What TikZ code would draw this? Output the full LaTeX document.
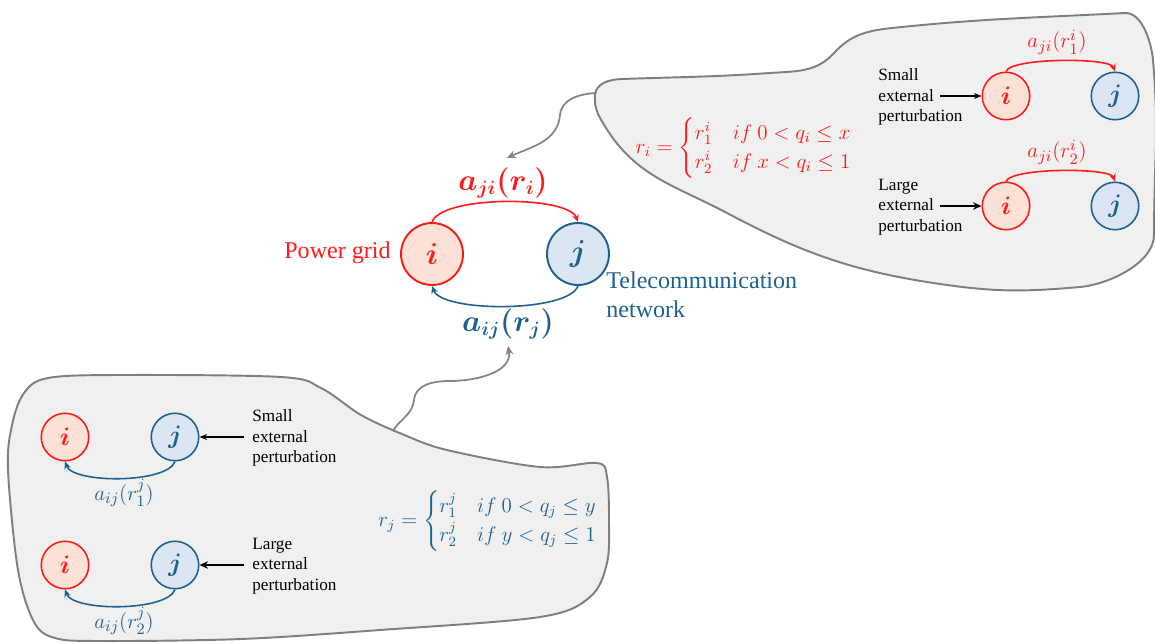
\documentclass[tikz,border=0pt]{standalone}
\usepackage{amsmath,amssymb}
\usepackage{bm}
\usepackage{fontspec}
\setmainfont{Liberation Serif}
\usepackage{tikz}
\usetikzlibrary{arrows.meta,positioning}
\definecolor{gridred}{HTML}{FF1A1A}
\definecolor{gridfill}{HTML}{FCE2D6}
\definecolor{netblue}{HTML}{1E6190}
\definecolor{netfill}{HTML}{DCE5F3}
\definecolor{panelgray}{HTML}{7F7F7F}
\definecolor{panelfill}{HTML}{F0F0F0}
\definecolor{linkgray}{HTML}{858585}
\tikzset{
  blob/.style={draw=panelgray,fill=panelfill,line width=1.1pt},
  gridnode/.style={circle,draw=gridred,fill=gridfill,line width=1.1pt,
                   minimum size=1.24cm,inner sep=0pt,text=gridred,
                   font=\fontsize{18}{21}\selectfont},
  netnode/.style={circle,draw=netblue,fill=netfill,line width=1.1pt,
                  minimum size=1.24cm,inner sep=0pt,text=netblue,
                  font=\fontsize{18}{21}\selectfont},
  gridsmall/.style={gridnode,minimum size=0.95cm,line width=0.9pt,
                    font=\fontsize{13.5}{15}\selectfont},
  netsmall/.style={netnode,minimum size=0.95cm,line width=0.9pt,
                   font=\fontsize{13.5}{15}\selectfont},
  bigtxt/.style={inner sep=0pt,font=\fontsize{13.7}{16.5}\selectfont},
  smalltxt/.style={inner sep=0pt,align=left,
                   font=\fontsize{9.8}{11.7}\selectfont},
  biglbl/.style={inner sep=0pt,font=\fontsize{16}{19}\selectfont},
  arclbl/.style={inner sep=0pt,font=\fontsize{13}{15}\selectfont},
  eqlbl/.style={inner sep=0pt,font=\fontsize{11.5}{13.8}\selectfont},
  redarc/.style={-{Stealth[length=1.5mm,width=1.3mm]},line width=0.9pt,
                 draw=gridred},
  bluearc/.style={-{Stealth[length=1.5mm,width=1.3mm]},line width=0.9pt,
                  draw=netblue},
  linkarr/.style={-{Stealth[length=1.8mm,width=1.6mm]},line width=1pt,
                  draw=linkgray},
  thinpert/.style={-{Stealth[length=1.5mm,width=1.2mm]},line width=0.7pt,
                   draw=black},
  thickpert/.style={-{Stealth[length=1.7mm,width=1.5mm]},line width=1.3pt,
                    draw=black}
}
\begin{document}
\begin{tikzpicture}[x=0.02cm,y=0.02cm]
    \path[use as bounding box] (0,0) rectangle (1155,-642);

    % panel of the power grid (top right)
    \draw[blob] (595,-95) to[out=85,in=182] (622,-79)
      to[out=2,in=184] (770,-73) to[out=4,in=228] (834,-53)
      to[out=48,in=186] (892,-28) to[out=6,in=183] (1125,-13)
      to[out=3,in=95,looseness=0.8] (1153,-60)
      to[out=-85,in=90] (1154,-235)
      to[out=-90,in=5,looseness=0.8] (1080,-287)
      to[out=185,in=-8] (947,-285)
      to[out=172,in=-28] (727,-213)
      to[out=152,in=-58] (606,-128)
      to[out=122,in=-95] cycle;
    % panel of the telecommunication network (bottom left)
    \draw[blob] plot[smooth cycle,tension=0.55] coordinates {
      (48,-378) (120,-375) (281,-377) (321,-388) (361,-415) (402,-434)
      (447,-450) (540,-467) (597,-463) (607,-477) (609,-520) (607,-563)
      (590,-597) (540,-617) (380,-630) (241,-639) (100,-641) (55,-638)
      (34,-622) (18,-570) (8,-470) (12,-425) (24,-393)};

    % coupled pair
    \node[gridnode] (pi) at (432,-254) {$\bm{i}$};
    \node[netnode] (tj) at (578,-254) {$\bm{j}$};
    \node[bigtxt,text=gridred,anchor=east] (pglbl) at (391,-253) {Power grid};
    \node[bigtxt,text=netblue,anchor=north west,align=left] (tnlbl)
      at (606,-271) {Telecommunication\\network};
    \draw[redarc] (pi.north) to[out=70,in=110,looseness=0.5] (tj.north);
    \draw[bluearc] (tj.south) to[out=-110,in=-70,looseness=0.5] (pi.south);
    \node[biglbl,text=gridred] (aji) at (503,-183) {$\bm{a_{ji}(r_i)}$};
    \node[biglbl,text=netblue] (aij) at (508,-324) {$\bm{a_{ij}(r_j)}$};

    % links from the panels
    \coordinate (ttip) at (595,-93);
    \coordinate (tend) at (507,-158);
    \draw[linkarr] (ttip) to[out=185,in=85] (560,-115)
      to[out=-95,in=25] (tend);
    \coordinate (btip) at (393,-431);
    \coordinate (bend) at (508,-346);
    \draw[linkarr] (btip) to[out=60,in=-95] (414,-400)
      to[out=85,in=180] (450,-381) to[out=0,in=-80] (bend);

    % power grid panel
    \node[eqlbl,text=gridred] (ri) at (744,-148)
      {$r_i=\begin{cases} r_1^i & if\ 0<q_i\le x\\
                           r_2^i & if\ x<q_i\le 1\end{cases}$};
    \foreach \n/\yy/\sz/\pw in {1/96/Small/thinpert,2/206/Large/thickpert}{
      \node[gridsmall] (si\n) at (1006,-\yy) {$\bm{i}$};
      \node[netsmall] (sj\n) at (1115,-\yy) {$\bm{j}$};
      \node[smalltxt,anchor=west] (sp\n) at (878,-\yy-1)
        {\sz\\external\\perturbation};
      \coordinate (sa\n) at (940,-\yy);
      \draw[\pw] (sa\n) -- (si\n.west);
      \draw[redarc] (si\n.north) to[out=70,in=110,looseness=0.35] (sj\n.north);
      \node[arclbl,text=gridred] (sl\n) at (1057,-\yy+54)
        {$a_{ji}(r_\n^i)$};
    }

    % telecommunication panel
    \node[eqlbl,text=netblue] (rj) at (488,-521)
      {$r_j=\begin{cases} r_1^j & if\ 0<q_j\le y\\
                           r_2^j & if\ y<q_j\le 1\end{cases}$};
    \foreach \n/\yy/\sz/\pw in {1/437/Small/thinpert,2/565/Large/thickpert}{
      \node[gridsmall] (bi\n) at (65,-\yy) {$\bm{i}$};
      \node[netsmall] (bj\n) at (175,-\yy) {$\bm{j}$};
      \node[smalltxt,anchor=west] (bp\n) at (252,-\yy-1)
        {\sz\\external\\perturbation};
      \coordinate (ba\n) at (244,-\yy);
      \draw[\pw] (ba\n) -- (bj\n.east);
      \draw[bluearc] (bj\n.south) to[out=-110,in=-70,looseness=0.55] (bi\n.south);
      \node[arclbl,text=netblue] (bl\n) at (124,-\yy-56)
        {$a_{ij}(r_\n^j)$};
    }
\end{tikzpicture}
\end{document}
